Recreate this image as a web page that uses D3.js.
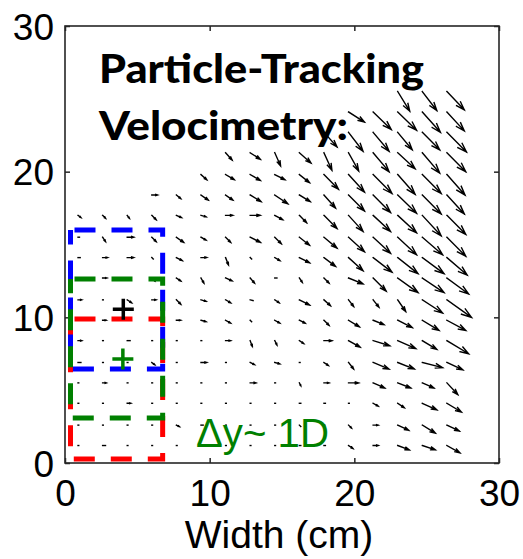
<!DOCTYPE html>
<html>
<head>
<meta charset="utf-8">
<script src="https://cdn.jsdelivr.net/npm/d3@7"></script>
<style>
  html, body { margin: 0; padding: 0; background: #fff; }
  svg { display: block; }
</style>
</head>
<body>
<svg id="chart" width="523" height="559"></svg>
<script>
// ---------------- data ----------------
const xTicks = [0, 10, 20, 30];
const yTicks = [0, 10, 20, 30];
const xLabel = "Width (cm)";
const titleLines = ["Particle-Tracking", "Velocimetry:"];
const noteText = "\u0394y~ 1D";

// particle grid positions (cm)
const colX = [0.9, 2.6, 4.3, 6.0, 7.7, 9.4, 11.1, 12.8, 14.5, 16.2, 17.9, 19.6, 21.3, 23.0, 24.7, 26.4];
const rowY = [25.5, 24.1, 22.7, 21.3, 19.8, 18.4, 17.0, 15.5, 14.1, 12.7, 11.2, 9.8, 8.4, 6.9, 5.5, 4.1, 2.6, 1.2];

const N = null;
// drawn displacement, x component (cm)
const U = [
  [N,N,N,N,N,N,N,N,N,N,N,N,N, .83,1.0,1.2],
  [N,N,N,N,N,N,N,N,N,N,N, 1.1,1.25,1.3,1.25,1.2],
  [N,N,N,N,N,N,N,N,N,N, .9,1.0,1.1,1.0,1.2,1.35],
  [N,N,N,N,N,N, .45,.7,.4,.8,.55,.7,1.1,1.2,1.2,1.3],
  [N,N,N,N,N, .4,.6,.7,.7,.7,1.0,1.1,1.3,1.2,1.3,1.25],
  [N,N,N, .4,.3,.5,.5,.75,.9,.75,.8,1.1,1.2,1.3,1.3,1.2],
  [.2,.2,.15,.3,.35,.35,.5,.7,.55,.5,.9,1.0,1.2,1.3,1.3,1.3],
  [.1,.2,.45,.3,.5,.35,.35,.7,.45,.7,.9,1.1,1.2,1.3,1.4,1.3],
  [.15,.35,.45,.1,.4,.4,.2,.1,.35,.7,.8,1.0,1.3,1.4,1.5,1.4],
  [.05,.3,.05,.2,.3,.2,.45,.3,.15,.2,.35,1.0,.9,1.4,1.5,1.5],
  [.25,.05,.3,.3,.3,.35,.35,.2,.3,.7,.45,.35,.4,.55,1.4,1.7],
  [.05,.25,.05,.1,.3,.35,.35,.1,.35,.4,.35,.75,.75,1.0,1.15,1.3],
  [.25,.05,.2,.05,.05,.05,.35,.15,.15,.3,.55,.8,1.15,1.25,1.0,1.5],
  [.2,.05,.05,.2,.05,.4,.05,.3,.35,.05,.3,.35,1.1,1.15,1.4,1.1],
  [.05,.25,.05,.05,.05,.05,.05,.4,.05,.1,.35,.7,.8,.9,.8,.75],
  [.05,.05,.25,.05,.05,.05,.05,.05,.05,.1,.1,.05,.35,.45,1.0,1.0],
  [.05,.05,.05,.05,.2,.15,.05,.05,.05,.1,.05,.2,.35,.75,.9,.85],
  [.05,.2,.05,.05,.05,.05,.05,.05,.05,.1,.1,.3,.35,.8,.9,.9]
];
// drawn displacement, y component (cm)
const V = [
  [N,N,N,N,N,N,N,N,N,N,N,N,N, -1.35,-1.3,-1.25],
  [N,N,N,N,N,N,N,N,N,N,N, -.7,-1.2,-1.25,-1.4,-1.3],
  [N,N,N,N,N,N,N,N,N,N, -1.0,-1.3,-1.3,-1.2,-1.2,-1.35],
  [N,N,N,N,N,N, -.5,-.45,-.9,-.7,-1.2,-1.25,-1.3,-1.1,-1.4,-1.3],
  [N,N,N,N,N, -.35,-.35,-.4,-.35,-.55,-1.0,-1.2,-1.3,-1.35,-1.3,-1.4],
  [N,N,N, 0,-.25,-.35,-.35,-.45,-.6,-.45,-.9,-1.1,-1.2,-1.25,-1.3,-1.3],
  [-.15,-.2,-.2,-.3,-.15,-.1,0,0,-.3,-.5,-.9,-1.1,-1.1,-1.2,-1.4,-1.3],
  [0,-.3,0,-.3,-.35,-.2,-.35,-.35,-.45,-.55,-.75,-1.0,-1.1,-1.2,-1.2,-1.3],
  [0,0,0,-.1,-.2,0,-.5,-.1,-.2,-.35,-.6,-.9,-1.0,-1.1,-1.1,-1.2],
  [0,0,0,-.2,-.2,-.35,-.2,-.35,0,-.3,-.35,-.4,-.9,-1.0,-1.0,-1.1],
  [0,0,-.2,0,-.3,-.1,-.2,-.05,-.2,-.35,-.4,-.45,-.5,-.8,-.9,-1.2],
  [0,0,0,0,0,-.1,-.2,-.1,-.2,-.2,-.35,-.45,-.3,-.5,-.7,-.7],
  [0,0,0,0,0,0,0,-.4,-.3,-.2,0,-.45,-.35,-.55,-.6,-.9],
  [0,0,0,-.15,0,0,0,-.15,-.1,0,-.2,-.45,-.45,-.45,-.35,-.5],
  [0,0,0,0,0,0,0,0,0,-.2,0,0,-.35,-.35,-.35,-.8],
  [0,0,0,0,0,0,0,0,0,0,0,0,-.2,-.3,-.45,-.6],
  [0,0,0,0,-.1,0,0,0,0,-.1,0,-.2,0,-.35,-.55,-.4],
  [0,0,0,0,0,0,0,0,0,0,0,-.2,0,-.3,-.3,-.5]
];

// dashed interrogation windows (cm)
const boxNames  = ["red", "blue", "green"];
const boxX0     = [0.38, 0.38, 0.38];
const boxX1     = [6.75, 6.75, 6.75];
const boxBottom = [0.27, 6.45, 3.09];
const boxTop    = [9.88, 16.0, 12.63];

// plus markers (cm)
const plusNames = ["black", "green"];
const plusX = [4.03, 4.0];
const plusY = [10.55, 7.14];

// ---------------- drawing ----------------
const colors = { red: "#ff0000", blue: "#0000ff", green: "#008000", black: "#000000" };
const svg = d3.select("#chart");
const x = d3.scaleLinear().domain([0, 30]).range([65, 499]);
const y = d3.scaleLinear().domain([0, 30]).range([463, 26]);

// quiver arrows
const arrows = [];
rowY.forEach((ry, i) => {
  colX.forEach((cx, j) => {
    const u = U[i][j], v = V[i][j];
    if (u === null || v === null) return;
    arrows.push({ x0: x(cx), y0: y(ry), x1: x(cx + u), y1: y(ry + v) });
  });
});
const alpha = 0.33, beta = 0.33;
function arrowPath(a) {
  const dx = a.x1 - a.x0, dy = a.y1 - a.y0;
  let p = `M${a.x0},${a.y0}L${a.x1},${a.y1}`;
  const L = Math.hypot(dx, dy);
  if (L > 3) {
    const hx1 = a.x1 - alpha * (dx + beta * dy), hy1 = a.y1 - alpha * (dy - beta * dx);
    const hx2 = a.x1 - alpha * (dx - beta * dy), hy2 = a.y1 - alpha * (dy + beta * dx);
    p += `M${hx1},${hy1}L${a.x1},${a.y1}L${hx2},${hy2}`;
  }
  return p;
}
svg.append("g").selectAll("path").data(arrows).join("path")
  .attr("d", arrowPath)
  .attr("fill", "none")
  .attr("stroke", "#000")
  .attr("stroke-width", 1.4)
  .attr("stroke-linecap", "square");

// axes
const fontAxis = "'Liberation Sans', Arial, Helvetica, sans-serif";
const gx = svg.append("g").attr("transform", `translate(0,${y(0)})`)
  .call(d3.axisBottom(x).tickValues(xTicks).tickSizeInner(-5).tickSizeOuter(0).tickPadding(17).tickFormat(d3.format("d")));
const gy = svg.append("g").attr("transform", `translate(${x(0)},0)`)
  .call(d3.axisLeft(y).tickValues(yTicks).tickSizeInner(-5).tickSizeOuter(0).tickPadding(11).tickFormat(d3.format("d")));
const gxt = svg.append("g").attr("transform", `translate(0,${y(30)})`)
  .call(d3.axisTop(x).tickValues(xTicks).tickSizeInner(-5).tickSizeOuter(0).tickFormat(""));
const gyr = svg.append("g").attr("transform", `translate(${x(30)},0)`)
  .call(d3.axisRight(y).tickValues(yTicks).tickSizeInner(-5).tickSizeOuter(0).tickFormat(""));
[gx, gy, gxt, gyr].forEach(g => {
  g.select(".domain").remove();
  g.selectAll(".tick line").attr("stroke", "#262626").attr("stroke-width", 1.5);
  g.selectAll(".tick text").attr("font-family", fontAxis).attr("font-size", 37).attr("fill", "#000");
});
gy.selectAll(".tick text").attr("dy", "0.36em");

// frame
svg.append("rect")
  .attr("x", x(0)).attr("y", y(30))
  .attr("width", x(30) - x(0)).attr("height", y(0) - y(30))
  .attr("fill", "none").attr("stroke", "#262626").attr("stroke-width", 1.6);

// x label
svg.append("text")
  .attr("x", 279).attr("y", 548)
  .attr("text-anchor", "middle")
  .attr("font-family", fontAxis).attr("font-size", 39)
  .text(xLabel);

// dashed boxes
boxNames.forEach((name, i) => {
  const x0 = x(boxX0[i]), x1 = x(boxX1[i]), yt = y(boxTop[i]), yb = y(boxBottom[i]);
  svg.append("path")
    .attr("d", `M${x0},${yt}L${x1},${yt}L${x1},${yb}L${x0},${yb}Z`)
    .attr("fill", "none")
    .attr("stroke", colors[name])
    .attr("stroke-width", 5)
    .attr("stroke-dasharray", "21,16")
    .attr("stroke-dashoffset", -4);
});

// plus markers
plusNames.forEach((name, i) => {
  const cx = x(plusX[i]), cy = y(plusY[i]), h = 10.5;
  svg.append("path")
    .attr("d", `M${cx - h},${cy}L${cx + h},${cy}M${cx},${cy - h}L${cx},${cy + h}`)
    .attr("stroke", colors[name]).attr("stroke-width", 3.5).attr("fill", "none");
});

// title
const fontTitle = "Lato, 'Open Sans', sans-serif";
svg.append("text").attr("x", 99).attr("y", 83)
  .attr("font-family", fontTitle).attr("font-weight", 900).attr("font-size", 40)
  .attr("textLength", 325).attr("lengthAdjust", "spacingAndGlyphs")
  .text(titleLines[0]);
svg.append("text").attr("x", 99).attr("y", 140)
  .attr("font-family", fontTitle).attr("font-weight", 900).attr("font-size", 40)
  .attr("textLength", 249).attr("lengthAdjust", "spacingAndGlyphs")
  .text(titleLines[1]);

// note
svg.append("text").attr("x", 196).attr("y", 447)
  .attr("font-family", fontAxis).attr("font-size", 40)
  .attr("fill", colors.green)
  .attr("textLength", 133).attr("lengthAdjust", "spacingAndGlyphs")
  .text(noteText);
</script>
</body>
</html>
